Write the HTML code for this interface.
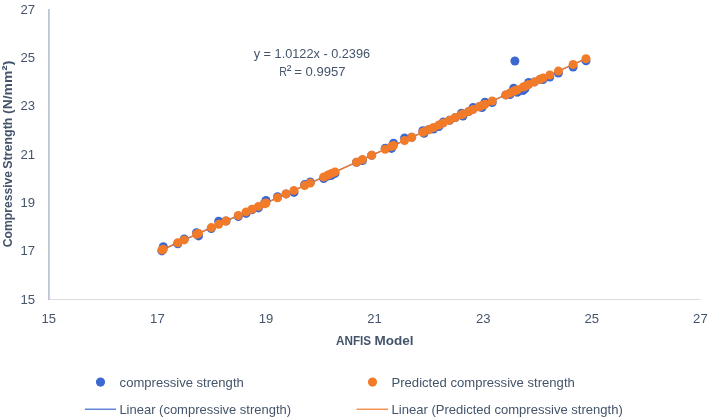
<!DOCTYPE html>
<html><head><meta charset="utf-8"><style>
html,body{margin:0;padding:0;background:#fff;}
body{width:709px;height:418px;overflow:hidden;}
svg{display:block;}
text{font-family:"Liberation Sans", Arial, sans-serif;fill:#44546A;}
</style></head><body>
<svg width="709" height="418" viewBox="0 0 709 418">
<rect width="709" height="418" fill="#fff"/>
<line x1="48.5" y1="299.5" x2="700.5" y2="299.5" stroke="#DADCE2" stroke-width="1"/>
<line x1="48.9" y1="9" x2="48.9" y2="300" stroke="#B4BFD0" stroke-width="1.6"/>
<g font-size="13.1">
<text x="35" y="13.5" text-anchor="end">27</text>
<text x="35" y="61.8" text-anchor="end">25</text>
<text x="35" y="110.1" text-anchor="end">23</text>
<text x="35" y="158.5" text-anchor="end">21</text>
<text x="35" y="206.8" text-anchor="end">19</text>
<text x="35" y="255.2" text-anchor="end">17</text>
<text x="35" y="303.5" text-anchor="end">15</text>
<text x="48.8" y="322.9" text-anchor="middle">15</text>
<text x="157.4" y="322.9" text-anchor="middle">17</text>
<text x="266.0" y="322.9" text-anchor="middle">19</text>
<text x="374.6" y="322.9" text-anchor="middle">21</text>
<text x="483.2" y="322.9" text-anchor="middle">23</text>
<text x="591.8" y="322.9" text-anchor="middle">25</text>
<text x="700.4" y="322.9" text-anchor="middle">27</text>
</g>
<g font-weight="bold" font-size="13"><text x="336.0" y="345.2" textLength="35.2" lengthAdjust="spacingAndGlyphs">ANFIS</text><text x="374.6" y="345.2" textLength="39.0" lengthAdjust="spacingAndGlyphs">Model</text></g>
<g font-weight="bold" font-size="12.6"><text transform="translate(11.9,247.2) rotate(-90)" textLength="76.2" lengthAdjust="spacingAndGlyphs">Compressive</text><text transform="translate(11.9,168.7) rotate(-90)" textLength="51.1" lengthAdjust="spacingAndGlyphs">Strength</text><text transform="translate(11.9,113.9) rotate(-90)" textLength="53.2" lengthAdjust="spacingAndGlyphs">(N/mm<tspan font-size="14.5">²</tspan>)</text></g>
<line x1="160.9" y1="250.4" x2="587.0" y2="58.2" stroke="#3D68D0" stroke-width="1.2"/>
<line x1="160.9" y1="250.4" x2="587.0" y2="58.2" stroke="#F27B2A" stroke-width="1.4"/>
<g fill="#3D68D0">
<circle cx="161.9" cy="250.9" r="4.5"/>
<circle cx="163.3" cy="246.8" r="4.5"/>
<circle cx="177.8" cy="243.7" r="4.5"/>
<circle cx="184.2" cy="238.9" r="4.5"/>
<circle cx="196.5" cy="232.8" r="4.5"/>
<circle cx="198.5" cy="235.9" r="4.5"/>
<circle cx="211.3" cy="228.6" r="4.5"/>
<circle cx="218.7" cy="221.3" r="4.5"/>
<circle cx="226.0" cy="221.0" r="4.5"/>
<circle cx="238.3" cy="216.5" r="4.5"/>
<circle cx="246.1" cy="213.4" r="4.5"/>
<circle cx="252.0" cy="209.8" r="4.5"/>
<circle cx="258.4" cy="207.9" r="4.5"/>
<circle cx="264.5" cy="203.2" r="4.5"/>
<circle cx="266.0" cy="200.5" r="4.5"/>
<circle cx="277.5" cy="196.8" r="4.5"/>
<circle cx="286.1" cy="193.9" r="4.5"/>
<circle cx="294.0" cy="192.4" r="4.5"/>
<circle cx="304.6" cy="184.6" r="4.5"/>
<circle cx="310.3" cy="182.0" r="4.5"/>
<circle cx="323.7" cy="178.5" r="4.5"/>
<circle cx="328.0" cy="176.0" r="4.5"/>
<circle cx="331.5" cy="175.4" r="4.5"/>
<circle cx="335.0" cy="173.4" r="4.5"/>
<circle cx="356.5" cy="162.2" r="4.5"/>
<circle cx="362.5" cy="160.5" r="4.5"/>
<circle cx="371.7" cy="155.3" r="4.5"/>
<circle cx="385.2" cy="148.2" r="4.5"/>
<circle cx="391.5" cy="148.4" r="4.5"/>
<circle cx="393.5" cy="143.2" r="4.5"/>
<circle cx="404.6" cy="138.0" r="4.5"/>
<circle cx="411.7" cy="137.3" r="4.5"/>
<circle cx="422.8" cy="130.8" r="4.5"/>
<circle cx="424.0" cy="133.2" r="4.5"/>
<circle cx="429.0" cy="129.5" r="4.5"/>
<circle cx="433.5" cy="129.0" r="4.5"/>
<circle cx="438.9" cy="126.5" r="4.5"/>
<circle cx="443.1" cy="122.1" r="4.5"/>
<circle cx="449.6" cy="120.2" r="4.5"/>
<circle cx="455.3" cy="117.6" r="4.5"/>
<circle cx="461.5" cy="113.3" r="4.5"/>
<circle cx="463.0" cy="116.1" r="4.5"/>
<circle cx="468.7" cy="111.6" r="4.5"/>
<circle cx="473.0" cy="107.6" r="4.5"/>
<circle cx="479.2" cy="106.8" r="4.5"/>
<circle cx="482.0" cy="107.6" r="4.5"/>
<circle cx="485.0" cy="102.2" r="4.5"/>
<circle cx="492.2" cy="102.5" r="4.5"/>
<circle cx="505.8" cy="94.9" r="4.5"/>
<circle cx="510.0" cy="94.5" r="4.5"/>
<circle cx="513.7" cy="88.3" r="4.5"/>
<circle cx="514.9" cy="61.0" r="4.5"/>
<circle cx="517.3" cy="92.2" r="4.5"/>
<circle cx="523.0" cy="90.6" r="4.5"/>
<circle cx="525.0" cy="88.7" r="4.5"/>
<circle cx="528.7" cy="82.5" r="4.5"/>
<circle cx="534.5" cy="81.9" r="4.5"/>
<circle cx="540.2" cy="79.3" r="4.5"/>
<circle cx="543.0" cy="79.6" r="4.5"/>
<circle cx="549.8" cy="77.0" r="4.5"/>
<circle cx="558.4" cy="73.1" r="4.5"/>
<circle cx="573.1" cy="67.0" r="4.5"/>
<circle cx="586.0" cy="60.7" r="4.5"/>
</g>
<g fill="#F27B2A">
<circle cx="161.9" cy="249.9" r="4.5"/>
<circle cx="163.3" cy="249.3" r="4.5"/>
<circle cx="177.8" cy="242.7" r="4.5"/>
<circle cx="184.2" cy="239.9" r="4.5"/>
<circle cx="196.5" cy="234.3" r="4.5"/>
<circle cx="198.5" cy="233.4" r="4.5"/>
<circle cx="211.3" cy="227.6" r="4.5"/>
<circle cx="218.7" cy="224.3" r="4.5"/>
<circle cx="226.0" cy="221.0" r="4.5"/>
<circle cx="238.3" cy="215.5" r="4.5"/>
<circle cx="246.1" cy="211.9" r="4.5"/>
<circle cx="252.0" cy="209.3" r="4.5"/>
<circle cx="258.4" cy="206.4" r="4.5"/>
<circle cx="264.5" cy="203.7" r="4.5"/>
<circle cx="266.0" cy="203.0" r="4.5"/>
<circle cx="277.5" cy="197.8" r="4.5"/>
<circle cx="286.1" cy="193.9" r="4.5"/>
<circle cx="294.0" cy="190.4" r="4.5"/>
<circle cx="304.6" cy="185.6" r="4.5"/>
<circle cx="310.3" cy="183.0" r="4.5"/>
<circle cx="323.7" cy="177.0" r="4.5"/>
<circle cx="328.0" cy="175.0" r="4.5"/>
<circle cx="331.5" cy="173.4" r="4.5"/>
<circle cx="335.0" cy="171.9" r="4.5"/>
<circle cx="356.5" cy="162.2" r="4.5"/>
<circle cx="362.5" cy="159.5" r="4.5"/>
<circle cx="371.7" cy="155.3" r="4.5"/>
<circle cx="385.2" cy="149.2" r="4.5"/>
<circle cx="391.5" cy="146.4" r="4.5"/>
<circle cx="393.5" cy="145.5" r="4.5"/>
<circle cx="404.6" cy="140.5" r="4.5"/>
<circle cx="411.7" cy="137.3" r="4.5"/>
<circle cx="422.8" cy="132.3" r="4.5"/>
<circle cx="424.0" cy="131.7" r="4.5"/>
<circle cx="429.0" cy="129.5" r="4.5"/>
<circle cx="433.5" cy="127.5" r="4.5"/>
<circle cx="438.9" cy="125.0" r="4.5"/>
<circle cx="443.1" cy="123.1" r="4.5"/>
<circle cx="449.6" cy="120.2" r="4.5"/>
<circle cx="455.3" cy="117.6" r="4.5"/>
<circle cx="461.5" cy="114.8" r="4.5"/>
<circle cx="463.0" cy="114.1" r="4.5"/>
<circle cx="468.7" cy="111.6" r="4.5"/>
<circle cx="473.0" cy="109.6" r="4.5"/>
<circle cx="479.2" cy="106.8" r="4.5"/>
<circle cx="482.0" cy="105.6" r="4.5"/>
<circle cx="485.0" cy="104.2" r="4.5"/>
<circle cx="492.2" cy="101.0" r="4.5"/>
<circle cx="505.8" cy="94.9" r="4.5"/>
<circle cx="510.0" cy="93.0" r="4.5"/>
<circle cx="513.7" cy="91.3" r="4.5"/>
<circle cx="514.9" cy="90.7" r="4.5"/>
<circle cx="517.3" cy="89.7" r="4.5"/>
<circle cx="523.0" cy="87.1" r="4.5"/>
<circle cx="525.0" cy="86.2" r="4.5"/>
<circle cx="528.7" cy="84.5" r="4.5"/>
<circle cx="534.5" cy="81.9" r="4.5"/>
<circle cx="540.2" cy="79.3" r="4.5"/>
<circle cx="543.0" cy="78.1" r="4.5"/>
<circle cx="549.8" cy="75.0" r="4.5"/>
<circle cx="558.4" cy="71.1" r="4.5"/>
<circle cx="573.1" cy="64.5" r="4.5"/>
<circle cx="586.0" cy="58.7" r="4.5"/>
</g>
<g font-size="12.8">
<text x="311.9" y="58.05" text-anchor="middle" textLength="116.4" lengthAdjust="spacingAndGlyphs">y = 1.0122x - 0.2396</text>
<text x="279.15" y="75.7" textLength="7.7" lengthAdjust="spacingAndGlyphs">R</text><text x="286.8" y="75.0" font-size="14">²</text><text x="294.2" y="75.7" textLength="51.3" lengthAdjust="spacingAndGlyphs">= 0.9957</text>
</g>
<circle cx="100.5" cy="382.1" r="4.6" fill="#3D68D0"/>
<circle cx="372.5" cy="382.1" r="4.6" fill="#F27B2A"/>
<line x1="84.9" y1="409.2" x2="116" y2="409.2" stroke="#3D68D0" stroke-width="1.2"/>
<line x1="356.6" y1="409.2" x2="388" y2="409.2" stroke="#F27B2A" stroke-width="1.2"/>
<g font-size="13">
<text x="119.6" y="386.8" textLength="124.2" lengthAdjust="spacingAndGlyphs">compressive strength</text>
<text x="391.5" y="386.8" textLength="183.3" lengthAdjust="spacingAndGlyphs">Predicted compressive strength</text>
<text x="119.4" y="413.7" textLength="171.7" lengthAdjust="spacingAndGlyphs">Linear (compressive strength)</text>
<text x="391.5" y="413.7" textLength="231.3" lengthAdjust="spacingAndGlyphs">Linear (Predicted compressive strength)</text>
</g>
</svg>
</body></html>
